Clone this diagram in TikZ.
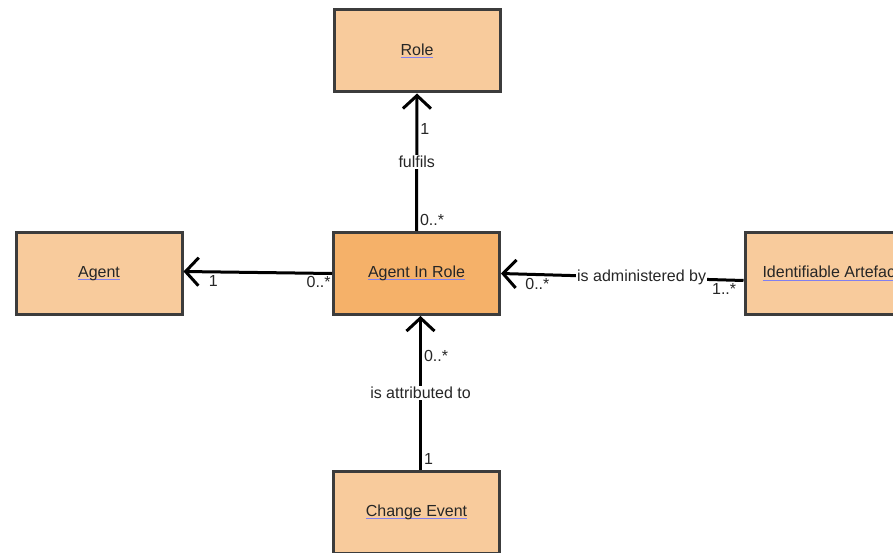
\documentclass[tikz,border=0pt]{standalone}
\usepackage{fontspec}
\setmainfont{Liberation Sans}
\usetikzlibrary{arrows.meta}
\definecolor{boxfill}{HTML}{F8CB9C}
\definecolor{keyfill}{HTML}{F5B169}
\definecolor{boxline}{HTML}{3C3C3C}
\definecolor{linkblue}{HTML}{8080F0}
\newcommand{\lnk}[1]{\setbox0\hbox{#1}\rlap{\color{linkblue}\rule[-2.6pt]{\wd0}{1pt}}\box0}
\begin{document}
\begin{tikzpicture}[x=1pt,y=-1pt,
  every node/.style={font=\fontsize{16}{19}\selectfont, text=black!85},
  classbox/.style={draw=boxline, line width=3pt, fill=boxfill, minimum width=166pt, minimum height=82pt, inner sep=0pt},
  assoc/.style={line width=3pt, -{Straight Barb[length=13pt,width=28pt,line width=3pt]}},
  mult/.style={inner sep=2pt},
  role/.style={fill=white, inner sep=1pt}]
\useasboundingbox (0,0) rectangle (893,553);
\node [classbox] (role) at (417,51) {\lnk{Role}};
\node [classbox] (agent) at (99,273.5) {\lnk{Agent}};
\node [classbox, fill=keyfill] (air) at (416.5,273.5) {\lnk{Agent In Role}};
\node [classbox, minimum width=172pt] (artefact) at (831,273.5) {\lnk{Identifiable Artefact}};
\node [classbox] (event) at (416.5,512.5) {\lnk{Change Event}};
\draw [assoc] (air.north) -- (role.south)
  node [pos=0.08, right, mult] {0..*}
  node [pos=0.5, role] {fulfils}
  node [pos=0.74, right, mult] {1};
\draw [assoc] (air.west) -- ([yshift=2pt]agent.east)
  node [pos=0.09, below, mult] {0..*}
  node [pos=0.8, below, mult] {1};
\draw [assoc] ([yshift=-7pt]artefact.west) -- (air.east)
  node [pos=0.08, below, mult] {1..*}
  node [pos=0.42, role] {is administered by}
  node [pos=0.85, below, mult] {0..*};
\draw [assoc] ([xshift=4pt]event.north) -- ([xshift=4pt]air.south)
  node [pos=0.07, right, mult] {1}
  node [pos=0.5, role] {is attributed to}
  node [pos=0.74, right, mult] {0..*};
\end{tikzpicture}
\end{document}
